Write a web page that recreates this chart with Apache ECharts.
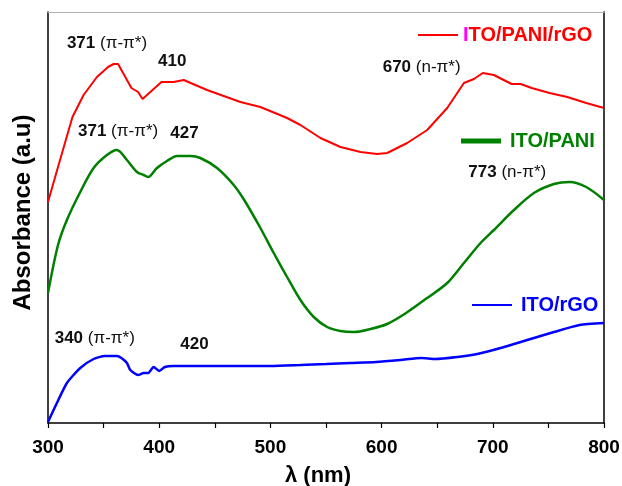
<!DOCTYPE html>
<html>
<head>
<meta charset="utf-8">
<script src="https://cdn.jsdelivr.net/npm/echarts@6/dist/echarts.min.js"></script>
<style>
html,body{margin:0;padding:0;background:#fff;}
#chart{width:622px;height:486px;}
</style>
</head>
<body>
<div id="chart"></div>
<script>
// ---- data (wavelength nm, absorbance a.u.) ----
var seriesNames = ['ITO/PANI/rGO', 'ITO/PANI', 'ITO/rGO'];

var redData = [[300,221],[309,256],[322,306],[332,328],[344,346],[354,356],[359,359],[363,359],[375,335],[381,331],[385,324],[402,341],[413,341],[422,343],[443,333],[473,321],[491,316],[515,305],[527,298],[545,285],[563,276],[581,271],[596,269],[605,270],[623,280],[641,293],[659,315],[674,340],[683,344],[691,350],[701,348],[708,344],[717,339],[725,339],[735,335],[751,330],[767,326],[784,320],[800,315]];

var greenData = [[300,130],[309,178],[317,203],[329,231],[341,255],[353,268],[362,273],[371,263],[380,251],[386,248],[390,246],[398,255],[407,262],[416,267],[428,267],[437,265],[452,255],[467,238],[477,222],[491,195],[503,170],[515,146],[527,123],[539,106],[551,96],[563,92],[575,91],[590,94],[605,99],[622,110],[641,125],[659,140],[674,160],[689,180],[701,193],[719,213],[737,230],[755,239],[769,241],[784,236],[800,223]];

var blueData = [[300,1],[308,20],[317,40],[329,55],[341,64],[351,67],[362,67],[366,65],[371,60],[374,53],[381,48],[386,50],[390,50],[395,56],[400,52],[405,56],[413,57],[440,57],[467,57],[500,57],[527,58],[550,59],[572,60],[595,61],[617,63],[636,65],[648,64],[668,66],[686,69],[707,75],[731,83],[755,91],[778,98],[800,100]];

var xTicks = {min: 300, max: 800, step: 50, labelStep: 100};

// annotations: [wavelength, absorbance, bold number, transition]
var annotations = [
  [317, 380, '371', '(π-π*)'],
  [399, 362, '410', ''],
  [327, 292, '371', '(π-π*)'],
  [410, 290, '427', ''],
  [601, 356, '670', '(n-π*)'],
  [678, 251, '773', '(n-π*)'],
  [306, 85, '340', '(π-π*)'],
  [419, 79, '420', '']
];

var colors = ['#ff0000', '#008000', '#0000ff'];
var FONT = '"Liberation Sans", Arial, sans-serif';

var chart = echarts.init(document.getElementById('chart'), null, {renderer: 'canvas'});

function legendCfg(name, i, left, top, h, pad, rich) {
  var cfg = {
    data: [name],
    left: left, top: top,
    padding: 0,
    icon: 'rect',
    itemWidth: 40, itemHeight: h,
    selectedMode: false,
    textStyle: {fontFamily: FONT, fontSize: 20, fontWeight: 'bold', color: colors[i], padding: [0, 0, 0, pad]}
  };
  if (rich) {
    cfg.formatter = function (n) { return '{m|' + n.charAt(0) + '}{r|' + n.slice(1) + '}'; };
    cfg.textStyle.rich = {
      m: {fontFamily: FONT, fontSize: 20, fontWeight: 'bold', color: '#ff00ff'},
      r: {fontFamily: FONT, fontSize: 20, fontWeight: 'bold', color: colors[i]}
    };
  }
  return cfg;
}

var option = {
  animation: false,
  backgroundColor: '#fff',
  grid: {left: 48, right: 18, top: 12, bottom: 63, containLabel: false, outerBoundsMode: 'none'},
  legend: [
    legendCfg(seriesNames[0], 0, 418, 25, 2, 0, true),
    legendCfg(seriesNames[1], 1, 461, 131, 5, 4, false),
    legendCfg(seriesNames[2], 2, 472, 295, 2, 4, false)
  ],
  xAxis: [{
    type: 'value',
    min: xTicks.min, max: xTicks.max, interval: xTicks.step,
    name: 'λ (nm)',
    nameLocation: 'middle',
    nameGap: 42,
    nameTextStyle: {fontFamily: FONT, fontSize: 22, fontWeight: 'bold', color: '#000', padding: [0, 16, 0, 0]},
    axisLine: {show: true, onZero: false, lineStyle: {color: '#000', width: 1.5}},
    axisTick: {show: true, inside: false, length: 5, lineStyle: {color: '#000', width: 1.2}},
    axisLabel: {
      fontFamily: FONT, fontSize: 19, fontWeight: 'bold', color: '#000', margin: 15,
      formatter: function (v) { return (v % xTicks.labelStep === 0) ? String(v) : ''; }
    },
    splitLine: {show: false}
  }, {
    type: 'value', position: 'top',
    min: xTicks.min, max: xTicks.max,
    axisLine: {show: true, onZero: false, lineStyle: {color: '#b0b0b0', width: 1}},
    axisTick: {show: false}, axisLabel: {show: false}, splitLine: {show: false}
  }],
  yAxis: [{
    type: 'value', min: 0, max: 411,
    name: 'Absorbance (a.u)',
    nameLocation: 'middle',
    nameRotate: 90,
    nameGap: 13,
    nameTextStyle: {fontFamily: FONT, fontSize: 24, fontWeight: 'bold', color: '#000', padding: [0, 0, 0, 10]},
    axisLine: {show: true, onZero: false, lineStyle: {color: '#000', width: 1.5}},
    axisTick: {show: false}, axisLabel: {show: false}, splitLine: {show: false}
  }, {
    type: 'value', position: 'right', min: 0, max: 411,
    axisLine: {show: true, onZero: false, lineStyle: {color: '#000', width: 1.5}},
    axisTick: {show: false}, axisLabel: {show: false}, splitLine: {show: false}
  }],
  series: [
    {name: seriesNames[0], type: 'line', data: redData, showSymbol: false, smooth: false,
     color: colors[0], lineStyle: {color: colors[0], width: 2}, z: 3},
    {name: seriesNames[1], type: 'line', data: greenData, showSymbol: false, smooth: 0.3,
     color: colors[1], lineStyle: {color: colors[1], width: 2.5}, z: 2},
    {name: seriesNames[2], type: 'line', data: blueData, showSymbol: false, smooth: 0.2,
     color: colors[2], lineStyle: {color: colors[2], width: 2.5}, z: 2}
  ]
};
chart.setOption(option);

var graphics = annotations.map(function (a) {
  var p = chart.convertToPixel({gridIndex: 0}, [a[0], a[1]]);
  var txt = '{b|' + a[2] + '}' + (a[3] ? '{s| }{n|' + a[3] + '}' : '');
  return {
    type: 'text', x: p[0], y: p[1], z: 10,
    style: {
      text: txt, align: 'left', verticalAlign: 'middle',
      rich: {
        b: {fontFamily: FONT, fontSize: 17, fontWeight: 'bold', fill: '#111'},
        s: {fontFamily: FONT, fontSize: 17, fill: '#111'},
        n: {fontFamily: FONT, fontSize: 17, fontWeight: 'normal', fill: '#111'}
      }
    }
  };
});
chart.setOption({graphic: graphics});
</script>
</body>
</html>
